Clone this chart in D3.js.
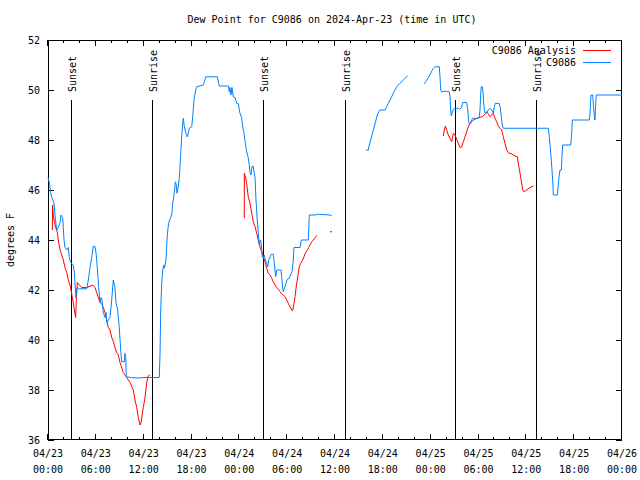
<!DOCTYPE html>
<html><head><meta charset="utf-8">
<script src="https://cdn.jsdelivr.net/npm/d3@7"></script>
<style>
body{margin:0;background:#fff}
text{font-family:"DejaVu Sans Mono","Liberation Mono",monospace;font-size:10px;fill:#000}
</style>
</head><body><svg id="c" width="640" height="480"></svg>
<script>
const title = "Dew Point for C9086 on 2024-Apr-23 (time in UTC)";
const yLabel = "degrees F";
const yTicks = [36,38,40,42,44,46,48,50,52];
const seriesNames = ["C9086 Analysis","C9086"];
const seriesColors = ["#ff0000","#0080ff"];
const eventNames = ["Sunset","Sunrise","Sunset","Sunrise","Sunset","Sunrise"];
const eventHours = [2.89,13.05,26.97,37.25,51.05,61.21];

// hours since 2024-04-23 00:00 UTC ; null value = gap
const analysisHours = [0.54,0.58,0.66,0.75,0.97,1.17,1.29,1.51,1.72,1.92,2.13,2.35,2.55,2.76,2.89,3.05,3.17,3.30,3.47,3.55,3.68,3.93,4.23,4.85,5.27,5.61,5.90,6.11,6.31,6.52,6.74,6.94,7.15,7.36,7.56,7.78,7.99,8.19,8.40,8.62,8.82,9.03,9.45,9.87,10.29,10.70,10.91,11.13,11.33,11.54,11.67,11.95,12.17,12.38,12.58,12.79,
  18.0,
  24.62,24.63,24.80,24.92,25.12,25.34,25.55,25.75,25.97,26.18,26.38,26.59,26.81,27.01,27.22,27.43,27.63,27.85,28.06,28.26,28.47,28.69,28.89,29.10,29.31,29.52,29.73,29.94,30.14,30.36,30.57,30.69,30.86,30.98,31.11,31.27,31.40,31.52,31.70,31.95,32.11,32.27,32.53,32.70,32.86,33.08,33.28,33.49,33.70,33.78,
  34.6,35.50,40.0,
  49.59,49.71,49.84,50.01,50.21,50.43,50.64,50.84,51.05,51.27,51.47,51.68,51.89,52.09,52.31,52.52,52.72,52.93,53.15,53.35,53.56,53.77,53.98,54.19,54.40,54.60,54.82,55.03,55.23,55.44,55.66,55.86,56.07,56.28,56.49,56.70,56.91,57.11,57.32,57.54,57.74,58.16,58.58,58.87,58.99,59.21,59.42,59.54,59.71,60.05,60.46,60.88];
const analysisValues = [44.4,45.4,45.0,44.8,44.5,44.3,44.0,43.6,43.4,43.2,42.9,42.7,42.4,42.2,42.0,41.7,41.5,41.2,40.9,41.6,42.3,42.2,42.1,42.1,42.15,42.2,42.1,41.9,41.7,41.5,41.45,41.3,41.1,40.8,40.5,40.4,40.1,39.95,39.7,39.5,39.4,39.1,38.7,38.5,38.3,38.0,37.6,37.3,36.9,36.6,36.7,37.3,37.7,38.3,38.56,38.6,
  null,
  44.87,46.67,46.47,46.27,45.73,45.47,45.07,44.73,44.53,44.27,44.0,43.73,43.53,43.33,43.13,42.87,42.67,42.6,42.47,42.33,42.2,42.1,42.03,41.93,41.84,41.8,41.73,41.6,41.47,41.33,41.2,41.17,41.47,41.73,42.07,42.4,42.67,42.93,43.07,43.2,43.33,43.47,43.6,43.7,43.8,43.93,44.0,44.1,44.16,44.16,
  null,44.33,null,
  48.16,48.4,48.56,48.4,48.2,48.07,47.93,48.27,48.2,48.03,47.87,47.7,47.72,47.93,48.13,48.33,48.53,48.67,48.73,48.8,48.83,48.86,48.89,48.9,48.93,48.96,49.04,49.13,49.04,48.93,49.0,49.07,48.87,48.73,48.56,48.47,48.4,48.13,47.87,47.6,47.49,47.44,47.36,47.33,47.07,46.67,46.27,46.0,45.93,46.0,46.1,46.16];

const obsHours = [0,0.16,0.34,0.46,0.75,0.88,1.09,1.29,1.51,1.63,1.84,1.92,2.01,2.13,2.35,2.55,2.67,2.85,3.17,3.30,3.42,3.51,3.60,3.68,3.93,4.85,5.06,5.27,5.48,5.68,5.90,6.02,6.18,6.36,6.52,6.65,6.77,6.94,7.15,7.28,7.36,7.56,7.78,7.99,8.19,8.40,8.53,8.74,8.94,9.12,9.24,9.57,9.66,9.75,9.82,10.50,11.54,11.75,13.96,14.05,14.14,14.26,14.39,14.51,14.59,14.68,14.80,14.93,15.05,15.18,15.30,15.43,15.55,15.64,15.77,15.89,15.97,16.09,16.18,16.31,16.47,16.65,16.77,16.90,16.97,17.10,17.31,17.47,17.60,17.72,18.03,18.15,18.31,18.53,18.65,19.48,19.61,19.78,21.24,21.41,21.49,22.62,22.74,22.83,22.95,23.08,23.24,23.46,23.67,23.87,24.08,24.30,24.42,24.59,24.75,24.92,25.09,25.25,25.34,25.46,25.59,25.75,25.84,25.97,26.09,26.25,26.38,26.50,26.63,26.72,26.81,26.88,27.01,27.13,27.26,27.43,27.56,27.68,27.85,28.01,28.26,28.39,28.47,28.56,28.69,29.23,29.31,29.44,29.52,29.64,29.73,29.85,30.02,30.27,30.44,30.61,30.77,30.86,31.61,31.77,32.65,32.78,33.62,33.78,35.37,35.59,
  37.7,
  39.89,40.18,40.30,40.48,40.64,40.80,40.98,41.14,41.31,41.48,41.64,42.27,42.49,42.69,42.90,43.11,43.31,43.53,43.74,43.94,44.15,44.57,45.12,
  46.1,
  47.16,47.41,47.58,47.83,48.00,48.17,48.33,48.54,49.08,49.17,49.26,49.38,49.92,50.21,50.34,50.43,50.51,50.59,50.71,50.84,51.05,51.47,51.59,51.81,51.89,52.02,52.52,52.65,52.77,52.85,53.02,53.15,53.27,53.98,54.10,54.19,54.28,54.35,54.48,54.56,54.65,54.73,54.85,55.03,55.23,55.44,55.66,55.86,55.98,56.11,56.61,56.74,56.86,56.99,57.11,62.76,62.88,63.06,63.22,63.35,63.38,63.89,63.97,64.10,64.22,64.39,64.47,64.56,65.57,65.69,65.77,67.90,67.99,68.11,68.33,68.45,68.61,68.70,68.78,72.0];
const obsValues = [46.5,46.3,45.9,45.7,45.5,45.0,44.4,44.5,44.7,45.0,44.9,44.5,44.0,43.7,43.6,43.7,43.3,43.1,43.0,42.7,42.1,41.7,42.0,42.1,42.05,42.05,42.4,42.9,43.3,43.76,43.73,43.5,42.9,42.1,41.5,41.7,41.6,41.1,40.9,41.1,40.7,40.8,40.9,41.6,42.4,42.1,41.5,41.2,40.5,39.6,39.13,39.13,39.47,39.3,38.53,38.49,38.48,38.5,38.5,39.4,41.2,42.27,42.8,43.0,42.87,43.0,43.2,44.0,44.47,44.73,44.83,44.93,45.09,45.47,45.73,46.0,46.33,46.2,45.87,46.07,46.47,47.47,48.13,48.67,48.87,48.53,48.27,48.13,48.27,48.47,48.53,48.93,49.6,50.0,50.13,50.2,50.33,50.53,50.53,50.27,50.16,50.16,49.93,50.1,49.8,50.1,49.73,49.7,49.47,49.45,49.07,48.87,48.53,48.27,47.87,47.53,47.33,47.0,46.7,46.6,46.95,46.95,46.73,46.5,45.6,44.8,44.3,43.8,44.0,43.9,43.6,43.33,43.27,43.4,43.2,43.1,42.93,43.2,43.33,43.43,43.43,43.07,42.8,42.53,42.8,42.8,42.53,42.07,41.93,42.07,42.13,42.27,42.43,42.47,42.6,42.73,43.2,43.7,43.7,44.0,44.0,45.0,45.0,45.03,45.0,44.97,
  null,
  47.6,47.6,47.8,48.0,48.2,48.4,48.6,48.8,49.0,49.13,49.2,49.2,49.33,49.47,49.6,49.73,49.87,50.0,50.13,50.2,50.27,50.4,50.57,
  null,
  50.24,50.35,50.43,50.56,50.67,50.77,50.87,50.93,50.93,50.53,50.0,49.93,49.95,49.93,49.93,49.73,49.2,48.96,49.1,49.23,49.27,49.27,49.23,49.27,49.33,49.5,49.5,49.2,48.73,48.64,48.67,48.8,48.87,48.87,48.96,49.2,49.87,50.13,50.13,49.93,49.47,49.2,49.07,49.1,49.2,49.27,49.2,49.07,49.33,49.47,49.45,49.27,48.93,48.6,48.47,48.47,48.13,47.47,46.8,46.13,45.8,45.8,46.07,46.53,46.8,46.8,47.33,47.8,47.8,48.27,48.8,48.8,49.07,49.8,49.8,49.2,48.8,49.47,49.8,49.8];

const t0 = Date.UTC(2024,3,23);
const hourToDate = h => new Date(t0 + h*3600000);

const svg = d3.select("#c");
const L=48, R=622, T=40, B=440;
const x = d3.scaleUtc().domain([hourToDate(0), hourToDate(72)]).range([L,R]);
const y = d3.scaleLinear().domain([36,52]).range([B,T]);

svg.append("rect").attr("width",640).attr("height",480).attr("fill","#fff");

svg.append("text").attr("x",332).attr("y",23).attr("text-anchor","middle").text(title);
svg.append("text").attr("transform","translate(14,240) rotate(-90)").attr("text-anchor","middle").text(yLabel);

const g = svg.append("g").attr("shape-rendering","crispEdges");
g.append("rect").attr("x",L+0.5).attr("y",T+0.5).attr("width",R-L-1).attr("height",B-T-1)
 .attr("fill","none").attr("stroke","#000");

yTicks.forEach(v=>{
  const yy = Math.round(y(v))+0.5;
  g.append("line").attr("x1",L).attr("x2",L+6).attr("y1",yy).attr("y2",yy).attr("stroke","#000");
  g.append("line").attr("x1",R-6).attr("x2",R).attr("y1",yy).attr("y2",yy).attr("stroke","#000");
  svg.append("text").attr("x",40).attr("y",y(v)+4).attr("text-anchor","end").text(v);
});

const major = d3.utcHour.every(6).range(hourToDate(0), hourToDate(72.01));
const minor = d3.utcHour.every(2).range(hourToDate(0), hourToDate(72.01));
minor.forEach(d=>{
  const isMajor = d.getUTCHours()%6===0;
  const len = isMajor?6:3;
  const xx = Math.round(x(d))-0.5;
  g.append("line").attr("x1",xx).attr("x2",xx).attr("y1",B).attr("y2",B-len).attr("stroke","#000");
  g.append("line").attr("x1",xx).attr("x2",xx).attr("y1",T).attr("y2",T+len).attr("stroke","#000");
});
const fDay = d3.utcFormat("%m/%d"), fTime = d3.utcFormat("%H:%M");
major.forEach(d=>{
  const t = svg.append("text").attr("text-anchor","middle");
  t.append("tspan").attr("x",x(d)).attr("y",457).text(fDay(d));
  t.append("tspan").attr("x",x(d)).attr("y",473).text(fTime(d));
});

eventHours.forEach((h,i)=>{
  const xx = Math.round(x(hourToDate(h)))+0.5;
  g.append("line").attr("x1",xx).attr("x2",xx).attr("y1",y(36)).attr("y2",y(36+0.85*16)).attr("stroke","#000");
  svg.append("text").attr("transform",`translate(${xx+4},${y(36+0.87*16)}) rotate(-90)`)
    .attr("text-anchor","start").text(eventNames[i]);
});

function drawSeries(hours, values, color){
  const pts = hours.map((h,i)=>({d:hourToDate(h), v:values[i]}));
  const line = d3.line().defined(p=>p.v!==null).x(p=>x(p.d)).y(p=>y(p.v));
  svg.append("path").attr("d",line(pts)).attr("fill","none").attr("stroke",color).attr("stroke-width",1);
  pts.forEach((p,i)=>{
    if(p.v===null) return;
    const prev = i>0 ? pts[i-1].v : null, next = i<pts.length-1 ? pts[i+1].v : null;
    if(prev===null && next===null){
      svg.append("rect").attr("x",x(p.d)-1).attr("y",y(p.v)-0.5).attr("width",2).attr("height",1).attr("fill",color);
    }
  });
}
drawSeries(analysisHours, analysisValues, seriesColors[0]);
drawSeries(obsHours, obsValues, seriesColors[1]);

seriesNames.forEach((n,i)=>{
  const ly = 50 + i*12;
  svg.append("text").attr("x",576).attr("y",ly+4).attr("text-anchor","end").text(n);
  svg.append("line").attr("x1",583).attr("x2",611).attr("y1",ly+0.5).attr("y2",ly+0.5)
    .attr("stroke",seriesColors[i]).attr("stroke-width",1);
});
</script>
</body></html>
